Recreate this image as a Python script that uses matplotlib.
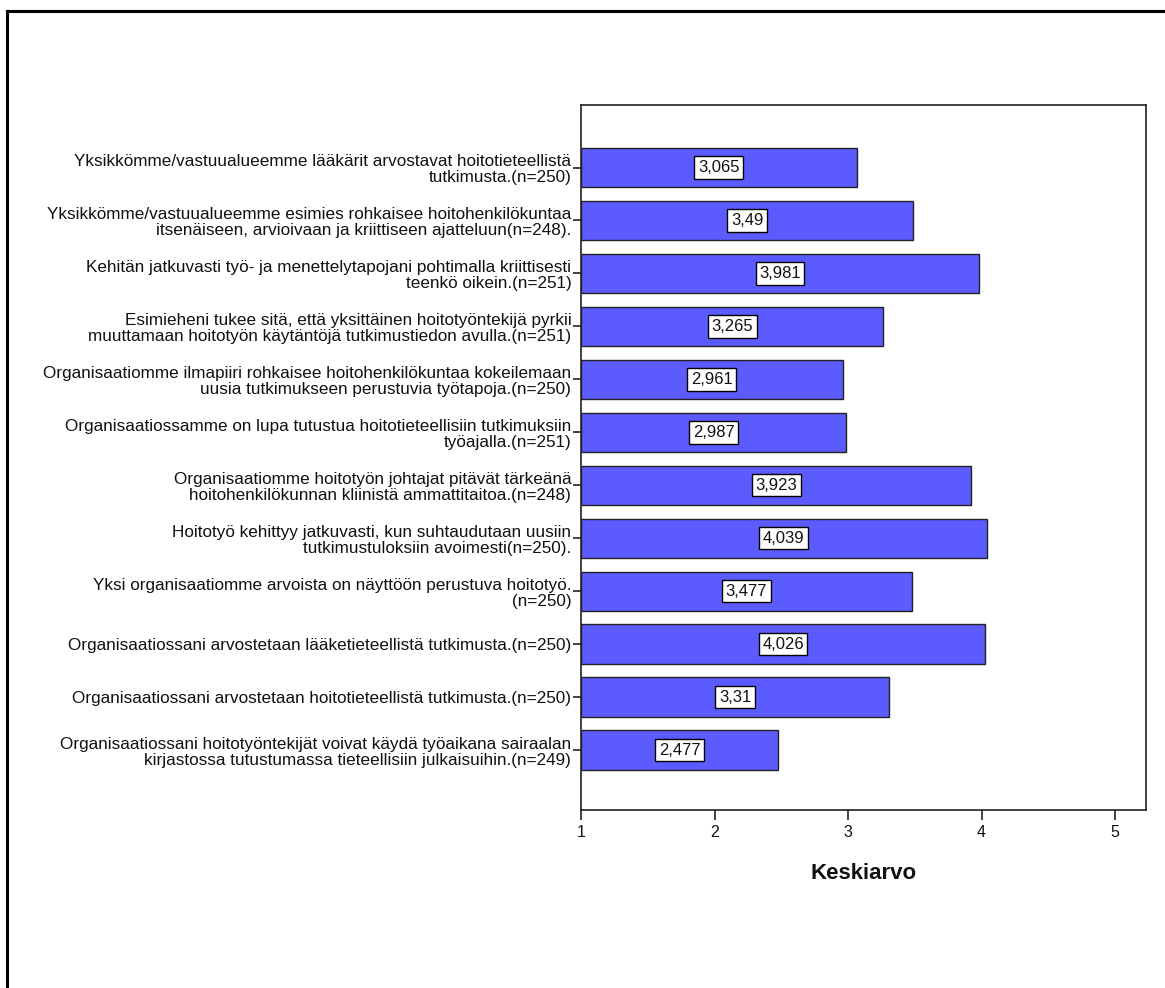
import matplotlib
matplotlib.use("Agg")
import matplotlib.pyplot as plt
from matplotlib.lines import Line2D

plt.rcParams['font.family'] = ['Liberation Sans', 'DejaVu Sans']

labels = [
    "Yksikkömme/vastuualueemme lääkärit arvostavat hoitotieteellistä\ntutkimusta.(n=250)",
    "Yksikkömme/vastuualueemme esimies rohkaisee hoitohenkilökuntaa\nitsenäiseen, arvioivaan ja kriittiseen ajatteluun(n=248).",
    "Kehitän jatkuvasti työ- ja menettelytapojani pohtimalla kriittisesti\nteenkö oikein.(n=251)",
    "Esimieheni tukee sitä, että yksittäinen hoitotyöntekijä pyrkii\nmuuttamaan hoitotyön käytäntöjä tutkimustiedon avulla.(n=251)",
    "Organisaatiomme ilmapiiri rohkaisee hoitohenkilökuntaa kokeilemaan\nuusia tutkimukseen perustuvia työtapoja.(n=250)",
    "Organisaatiossamme on lupa tutustua hoitotieteellisiin tutkimuksiin\ntyöajalla.(n=251)",
    "Organisaatiomme hoitotyön johtajat pitävät tärkeänä\nhoitohenkilökunnan kliinistä ammattitaitoa.(n=248)",
    "Hoitotyö kehittyy jatkuvasti, kun suhtaudutaan uusiin\ntutkimustuloksiin avoimesti(n=250).",
    "Yksi organisaatiomme arvoista on näyttöön perustuva hoitotyö.\n(n=250)",
    "Organisaatiossani arvostetaan lääketieteellistä tutkimusta.(n=250)",
    "Organisaatiossani arvostetaan hoitotieteellistä tutkimusta.(n=250)",
    "Organisaatiossani hoitotyöntekijät voivat käydä työaikana sairaalan\nkirjastossa tutustumassa tieteellisiin julkaisuihin.(n=249)",
]
means = [3.065, 3.49, 3.981, 3.265, 2.961, 2.987, 3.923, 4.039, 3.477, 4.026, 3.31, 2.477]
value_text = ["3,065", "3,49", "3,981", "3,265", "2,961", "2,987", "3,923", "4,039",
              "3,477", "4,026", "3,31", "2,477"]
x_ticks = [1, 2, 3, 4, 5]
x_label = "Keskiarvo"

W, H = 1165, 988
fig = plt.figure(figsize=(W / 100, H / 100), dpi=100)
fig.patch.set_facecolor("white")

# outer frame (top and left edges visible)
fig.add_artist(Line2D([6.5 / W, 6.5 / W], [0, 1 - 11.5 / H], transform=fig.transFigure,
                      color="black", lw=2.2))
fig.add_artist(Line2D([6.5 / W, 1], [1 - 11.5 / H, 1 - 11.5 / H], transform=fig.transFigure,
                      color="black", lw=2.2))

left, right, top, bottom = 581, 1146, 105, 810
ax = fig.add_axes([left / W, 1 - bottom / H, (right - left) / W, (bottom - top) / H])

base = 1.0
ypos = list(range(len(means)))
ax.barh(ypos, [m - base for m in means], left=base, height=0.745,
        color="#5B5BFF", edgecolor="#222222", linewidth=1.0, zorder=2)

for y, m, t in zip(ypos, means, value_text):
    ax.text((base + m) / 2, y, t, ha="center", va="center", fontsize=12, color="#111111",
            bbox=dict(boxstyle="square,pad=0.22", facecolor="white", edgecolor="black",
                      linewidth=1.0), zorder=3)

ax.set_xlim(1, 5.232)
ax.set_ylim(12.13, -1.18)
ax.set_xticks(x_ticks)
ax.set_xticklabels([str(v) for v in x_ticks], fontsize=11.5, color="#111111")
ax.set_yticks(ypos)
ax.set_yticklabels(labels, fontsize=12.3, linespacing=1.08, color="#111111")
ax.tick_params(axis="y", length=6, width=1.2, pad=1, color="#222222")
ax.tick_params(axis="x", length=7, width=1.2, pad=4, color="#222222")
for s in ax.spines.values():
    s.set_linewidth(1.2)
    s.set_color("#222222")
ax.set_xlabel(x_label, fontsize=16, fontweight="bold", labelpad=16, color="#111111")

fig.savefig("out.png", dpi=100, facecolor="white")
